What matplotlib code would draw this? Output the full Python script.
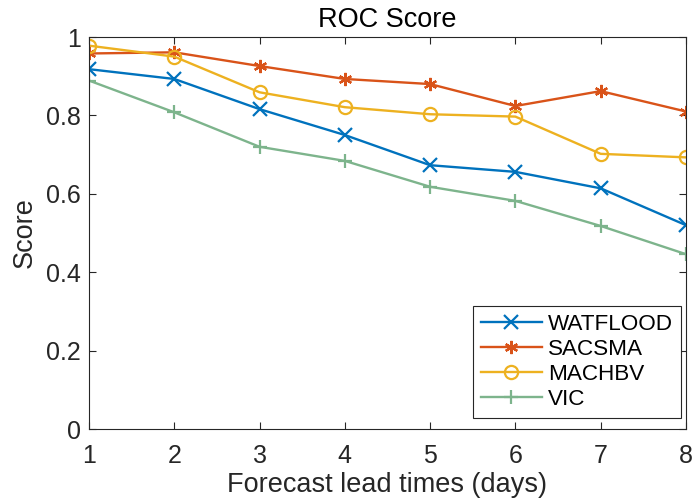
import matplotlib
matplotlib.use('Agg')
import matplotlib.pyplot as plt

plt.rcParams['font.family'] = ['Liberation Sans', 'DejaVu Sans']

lead_days = [1, 2, 3, 4, 5, 6, 7, 8]
watflood = [0.918, 0.893, 0.816, 0.750, 0.673, 0.656, 0.614, 0.520]
sacsma = [0.958, 0.961, 0.926, 0.893, 0.880, 0.824, 0.862, 0.810]
machbv = [0.978, 0.950, 0.859, 0.821, 0.803, 0.797, 0.702, 0.693]
vic = [0.889, 0.808, 0.720, 0.684, 0.618, 0.582, 0.518, 0.446]

series = [
    ('WATFLOOD', watflood, '#0072BD', 'x', {}),
    ('SACSMA', sacsma, '#D95319', (6, 2, 0), {}),
    ('MACHBV', machbv, '#EDB120', 'o', {'markerfacecolor': 'none'}),
    ('VIC', vic, '#7DB48C', '+', {}),
]

fig = plt.figure(figsize=(6.95, 5.01), dpi=100)
ax = fig.add_axes([0.128, 0.1437, 0.859, 0.7824])

for name, vals, col, mk, extra in series:
    ax.plot(lead_days, vals, color=col, marker=mk, markersize=9.5,
            markeredgewidth=1.6, linewidth=1.7, label=name, **extra)

ax.set_xlim(1, 8)
ax.set_ylim(0, 1)
ax.set_xticks(lead_days)
ax.set_yticks([0, 0.2, 0.4, 0.6, 0.8, 1])
ax.set_yticklabels(['0', '0.2', '0.4', '0.6', '0.8', '1'])
ax.tick_params(direction='in', top=True, right=True, labelsize=18,
               length=5, width=0.8, color='#262626', labelcolor='#262626')
ax.tick_params(axis='x', pad=11)
ax.tick_params(axis='y', pad=6)
for sp in ax.spines.values():
    sp.set_color('#262626')
    sp.set_linewidth(0.8)

ax.set_title('ROC Score', fontsize=19.5, color='black', pad=7)
ax.set_xlabel('Forecast lead times (days)', fontsize=19.5, color='#262626', labelpad=3)
ax.set_ylabel('Score', fontsize=19.5, color='#262626', labelpad=6)

leg = ax.legend(loc='lower right', bbox_to_anchor=(0.992, 0.028), borderaxespad=0,
                fontsize=16.2, handlelength=2.7, handletextpad=0.3,
                labelspacing=0.18, borderpad=0.35, fancybox=False, framealpha=1)
leg.get_frame().set_edgecolor('#262626')
leg.get_frame().set_linewidth(0.8)

plt.savefig('out.png', dpi=100)
plt.close()
